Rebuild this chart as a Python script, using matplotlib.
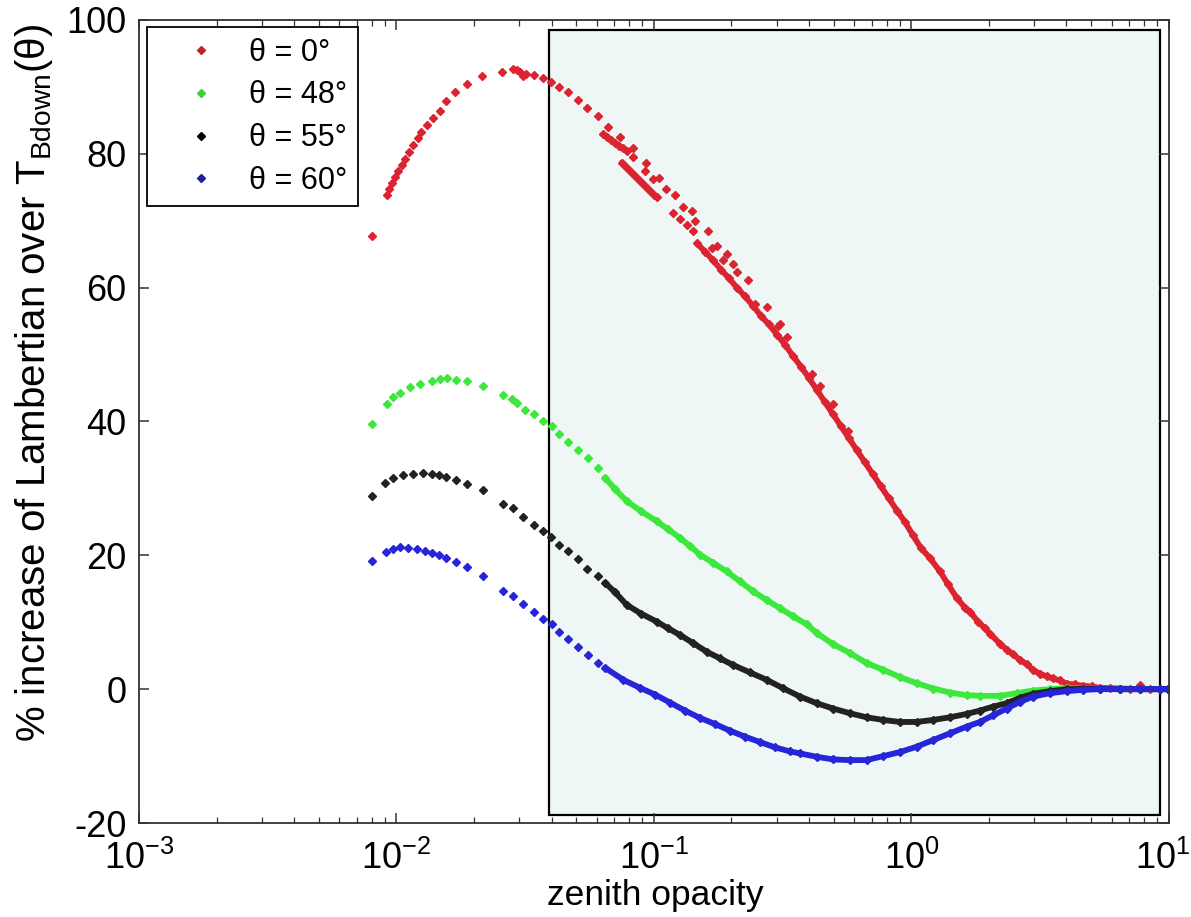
import matplotlib
matplotlib.use('Agg')
import matplotlib.pyplot as plt
import matplotlib.transforms as mtransforms
from matplotlib.patches import Rectangle
from matplotlib.lines import Line2D
from matplotlib.ticker import LogLocator, FixedLocator, NullLocator

plt.rcParams['font.family'] = ['Liberation Sans', 'DejaVu Sans']
plt.rcParams['axes.unicode_minus'] = False
plt.rcParams['mathtext.fontset'] = 'custom'
plt.rcParams['mathtext.rm'] = 'Liberation Sans'
plt.rcParams['mathtext.it'] = 'Liberation Sans:italic'

# ---------------- data ----------------
labels = ['θ = 0°', 'θ = 48°', 'θ = 55°', 'θ = 60°']
colors = ['#dc2430', '#3de83d', '#222222', '#2626d8']
legend_colors = ['#c81e2c', '#3ccf3c', '#000000', '#20209a']

# theta = 0 deg
red_sparse_tau = [0.00806, 0.00916, 0.00935, 0.00957, 0.00987, 0.01016, 0.01047, 0.0108, 0.0112,
                  0.0116, 0.0121, 0.0125, 0.0131, 0.0138, 0.0147, 0.0156, 0.0169, 0.0188, 0.0215,
                  0.0258, 0.0283, 0.0294, 0.0303, 0.0318, 0.0310, 0.0343, 0.0370, 0.0398, 0.0428,
                  0.0465, 0.0507, 0.0551, 0.0606, 0.0665]
red_sparse_pct = [67.7, 73.9, 74.8, 75.6, 76.5, 77.4, 78.3, 79.2, 80.3, 81.3, 82.3, 83.3, 84.3, 85.4,
                  86.4, 87.9, 89.2, 90.4, 91.6, 92.2, 92.7, 92.5, 92.3, 92.0, 91.6, 91.8, 91.4, 90.8,
                  90.0, 89.2, 88.0, 86.8, 85.6, 84.0]
red_scatter_tau = [0.0738, 0.0827, 0.0831, 0.0931, 0.0923, 0.0994, 0.1049, 0.1113, 0.1207, 0.1188,
                   0.1300, 0.1340, 0.1401, 0.1443, 0.1421, 0.1262, 0.1625, 0.1675, 0.1752, 0.1858,
                   0.1915, 0.2032, 0.2095, 0.2324, 0.2467, 0.2739, 0.3038, 0.3085, 0.3275, 0.4095,
                   0.4411, 0.4968, 0.5681, 7.709]
red_scatter_pct = [82.5, 80.8, 79.5, 78.6, 77.5, 76.3, 76.4, 74.8, 73.8, 71.1, 72.0, 69.4, 71.5, 70.0,
                   68.5, 70.3, 68.5, 66.0, 66.3, 64.1, 65.1, 63.6, 62.3, 61.1, 57.6, 57.1, 54.3, 54.6,
                   52.6, 47.1, 45.3, 42.6, 38.6, 0.6]
red_band1_tau = [0.0634, 0.0657, 0.0681, 0.0706, 0.0731, 0.0758, 0.0786]
red_band1_pct = [82.9, 82.5, 82.0, 81.6, 81.2, 80.8, 80.4]
red_band2_tau = [0.0751, 0.0779, 0.0807, 0.0836, 0.0867, 0.0898, 0.0931, 0.0965, 0.1000, 0.1027]
red_band2_pct = [78.7, 78.1, 77.5, 76.9, 76.3, 75.7, 75.1, 74.5, 73.9, 73.5]
red_dense_tau = [0.1469, 0.1578, 0.1695, 0.1820, 0.1955, 0.2100, 0.2256, 0.2423, 0.2603, 0.2796,
                 0.3003, 0.3226, 0.3465, 0.3722, 0.3998, 0.4294, 0.4613, 0.4954, 0.5322, 0.5716,
                 0.6140, 0.6595, 0.7084, 0.7609, 0.8174, 0.8780, 0.9431, 1.013, 1.088, 1.179,
                 1.290, 1.385, 1.501, 1.612, 1.686, 1.811, 1.928, 2.016, 2.205, 2.347,
                 2.477, 2.637, 2.807, 2.962, 3.153, 3.356, 3.541, 3.770, 4.014, 4.311,
                 4.631, 5.019, 5.391, 5.895, 6.447, 7.050, 7.709, 8.430, 9.218, 9.90]
red_dense_pct = [66.6, 65.4, 64.1, 62.7, 61.4, 60.0, 58.7, 57.3, 55.8, 54.5,
                 53.0, 51.5, 49.8, 48.2, 46.5, 44.7, 42.9, 41.1, 39.3, 37.5,
                 35.7, 33.9, 32.1, 30.3, 28.5, 26.7, 25.0, 23.0, 21.1, 19.6,
                 17.6, 15.7, 13.6, 12.2, 11.6, 10.1, 9.1, 8.3, 6.8, 5.9,
                 5.2, 4.4, 3.7, 2.9, 2.3, 1.9, 1.6, 1.3, 0.8, 0.7,
                 0.5, 0.4, 0.2, 0.15, 0.1, 0.05, 0.0, 0.0, 0.0, 0.0]

# theta = 48 deg
green_sparse_tau = [0.00806, 0.009166, 0.009724, 0.010324, 0.01129, 0.012346, 0.013708, 0.014764,
                    0.015675, 0.017033, 0.018844, 0.021623, 0.025856, 0.028023, 0.029304, 0.031562,
                    0.034206, 0.037172, 0.040070, 0.042885, 0.046481, 0.050555, 0.055282, 0.060782]
green_sparse_pct = [39.6, 42.6, 43.6, 44.3, 45.1, 45.6, 46.0, 46.3, 46.5, 46.2, 46.0, 45.3, 43.9,
                    43.3, 42.8, 41.7, 41.1, 40.1, 39.4, 38.2, 36.9, 35.7, 34.5, 33.1]
green_dense_tau = [0.06453, 0.07057, 0.07835, 0.08903, 0.10244, 0.11333, 0.12617, 0.13797, 0.15088,
                   0.16946, 0.19155, 0.21573, 0.24297, 0.27463, 0.30848, 0.34647, 0.39162, 0.42824,
                   0.49678, 0.57680, 0.66953, 0.77680, 0.90185, 1.0469, 1.2146, 1.4102, 1.6371,
                   1.8441, 2.205, 2.560, 2.970, 3.448, 4.003, 4.631, 5.391, 6.447, 7.709, 9.218, 9.90]
green_dense_pct = [31.6, 29.9, 28.1, 26.6, 25.1, 23.9, 22.6, 21.4, 20.1, 18.9, 17.6, 16.1, 14.6,
                   13.3, 12.1, 10.9, 9.7, 8.4, 6.7, 5.4, 3.9, 2.9, 1.8, 0.9, 0.1, -0.5, -0.9,
                   -1.0, -1.0, -0.6, -0.2, 0.0, 0.15, 0.1, 0.05, 0.0, 0.0, 0.0, 0.0]

# theta = 55 deg
black_sparse_tau = [0.00806, 0.009027, 0.009724, 0.010634, 0.011629, 0.012716, 0.013782, 0.014671,
                    0.015577, 0.017033, 0.018844, 0.021623, 0.025856, 0.028427, 0.031085, 0.034206,
                    0.037172, 0.039716, 0.042885, 0.046481, 0.050555, 0.055088, 0.060782]
black_sparse_pct = [28.8, 30.8, 31.6, 32.0, 32.2, 32.3, 32.2, 32.0, 31.7, 31.3, 30.7, 29.8, 27.7,
                    27.1, 25.8, 24.6, 23.7, 22.8, 21.6, 20.6, 19.4, 18.0, 16.9]
black_dense_tau = [0.06453, 0.07057, 0.07835, 0.08903, 0.10244, 0.11333, 0.12617, 0.14171, 0.16019,
                   0.18041, 0.2032, 0.23591, 0.2739, 0.31684, 0.36886, 0.42824, 0.49678, 0.57680,
                   0.66953, 0.77680, 0.90185, 1.0469, 1.2146, 1.4102, 1.6371, 1.8441, 2.0765,
                   2.3412, 2.637, 2.970, 3.448, 4.003, 4.631, 5.391, 6.447, 7.709, 9.218, 9.90]
black_dense_pct = [15.9, 14.5, 12.6, 11.3, 10.1, 9.1, 8.1, 6.9, 5.6, 4.6, 3.6, 2.5, 1.4, 0.15,
                   -1.1, -2.1, -2.9, -3.6, -4.2, -4.6, -4.9, -4.9, -4.6, -4.2, -3.7, -3.2, -2.6,
                   -2.1, -1.3, -0.7, -0.3, 0.0, 0.05, 0.05, 0.0, 0.0, 0.0, 0.0]

# theta = 60 deg
blue_sparse_tau = [0.00806, 0.009108, 0.009724, 0.010324, 0.01112, 0.011984, 0.01291, 0.013708,
                   0.014671, 0.015577, 0.017033, 0.018844, 0.021623, 0.025856, 0.028427, 0.031085,
                   0.034206, 0.037172, 0.040070, 0.042885, 0.046481, 0.050555, 0.055282, 0.060782]
blue_sparse_pct = [19.1, 20.5, 21.0, 21.2, 21.1, 20.9, 20.6, 20.3, 20.0, 19.6, 19.0, 18.2, 16.9,
                   14.7, 13.9, 12.7, 11.5, 10.5, 9.7, 8.5, 7.5, 6.3, 5.1, 3.9]
blue_dense_tau = [0.06453, 0.0760, 0.08824, 0.1009, 0.11538, 0.13194, 0.15088, 0.17252, 0.19729,
                  0.2256, 0.25797, 0.29499, 0.33733, 0.36886, 0.42824, 0.49678, 0.57680, 0.66953,
                  0.77680, 0.90185, 1.0469, 1.2146, 1.4102, 1.6371, 1.8441, 2.0765, 2.3412, 2.637,
                  2.970, 3.448, 4.003, 4.631, 5.391, 6.447, 7.709, 9.218, 9.90]
blue_dense_pct = [3.2, 1.4, 0.2, -0.8, -2.0, -3.2, -4.3, -5.2, -6.2, -7.1, -7.9, -8.7, -9.3, -9.6,
                  -10.1, -10.5, -10.6, -10.6, -10.0, -9.4, -8.6, -7.6, -6.6, -5.6, -4.9, -3.9,
                  -2.9, -1.9, -1.1, -0.6, -0.3, -0.1, 0.0, 0.0, 0.0, 0.0, 0.0]

# shaded region
region_tau = (0.0391, 9.22)
region_pct = (-18.8, 98.5)

x_major = [1e-3, 1e-2, 1e-1, 1e0, 1e1]
y_ticks = [-20, 0, 20, 40, 60, 80, 100]

# ---------------- figure ----------------
fig = plt.figure(figsize=(11.91, 9.17), dpi=100)
ax = fig.add_axes([0.1167, 0.1025, 0.8648, 0.8757])
ax.set_xscale('log')
ax.set_xlim(1e-3, 1e1)
ax.set_ylim(-20, 100)

ax.add_patch(Rectangle((region_tau[0], region_pct[0]), region_tau[1] - region_tau[0],
                       region_pct[1] - region_pct[0], facecolor='#eff6f6',
                       edgecolor='black', linewidth=1.6, zorder=1))

ms = 3.8
mk = 'D'
def pts(x, y, c):
    ax.plot(x, y, ls='none', marker=mk, ms=ms, color=c, mec=c, zorder=3)
def dense(x, y, c, lw=4.2):
    ax.plot(x, y, ls='-', lw=lw, marker=mk, ms=ms, color=c, mec=c, zorder=3,
            solid_capstyle='round')

pts(red_sparse_tau, red_sparse_pct, colors[0])
pts(red_scatter_tau, red_scatter_pct, colors[0])
dense(red_band1_tau, red_band1_pct, colors[0])
dense(red_band2_tau, red_band2_pct, colors[0])
dense(red_dense_tau, red_dense_pct, colors[0])

pts(green_sparse_tau, green_sparse_pct, colors[1])
dense(green_dense_tau, green_dense_pct, colors[1])

pts(black_sparse_tau, black_sparse_pct, colors[2])
dense(black_dense_tau, black_dense_pct, colors[2])

pts(blue_sparse_tau, blue_sparse_pct, colors[3])
dense(blue_dense_tau, blue_dense_pct, colors[3])

# axes styling
for s in ax.spines.values():
    s.set_linewidth(1.3)
    s.set_color('#333333')
    s.set_zorder(5)
ax.xaxis.set_major_locator(FixedLocator(x_major))
ax.xaxis.set_minor_locator(LogLocator(base=10, subs=range(2, 10)))
ax.yaxis.set_major_locator(FixedLocator(y_ticks))
ax.yaxis.set_minor_locator(NullLocator())
ax.tick_params(which='both', direction='in', top=True, right=True, color='#333333')
ax.tick_params(which='major', length=7, width=1.1)
ax.tick_params(which='minor', length=4, width=0.9)
ax.tick_params(axis='y', labelsize=26, pad=9)
ax.tick_params(axis='x', labelsize=26, pad=13)

ax.set_xlabel('zenith opacity', fontsize=25.5, labelpad=0)
ax.xaxis.set_label_coords(0.501, -0.070)
ax.set_ylabel(r'% increase of Lambertian over T$_{\mathdefault{Bdown}}$(θ)', fontsize=29)
ax.yaxis.set_label_coords(-0.0816, 0.548)

# keep the rightmost x tick label inside the canvas, as in the reference
fig.canvas.draw()
last = ax.get_xticklabels()[-1]
last.set_transform(last.get_transform() +
                   mtransforms.ScaledTranslation(-6 / 100, 0, fig.dpi_scale_trans))

handles = [Line2D([], [], ls='none', marker=mk, ms=ms, color=c, mec=c) for c in legend_colors]
leg = ax.legend(handles, labels, loc='upper left', bbox_to_anchor=(0.0078, 0.991),
                borderaxespad=0, fontsize=22, frameon=True, fancybox=False,
                edgecolor='black', framealpha=1, borderpad=0.34, handlelength=2.85,
                handletextpad=0.16, labelspacing=0.42)
leg.get_frame().set_linewidth(1.3)
leg.set_zorder(6)

fig.savefig('out.png', dpi=100)
